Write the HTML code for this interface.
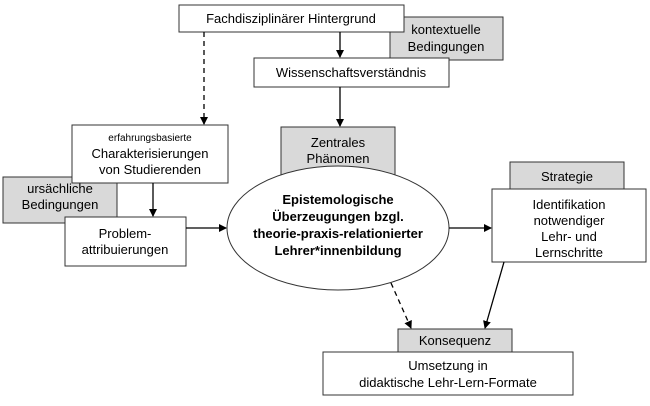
<!DOCTYPE html>
<html><head><meta charset="utf-8"><style>
body{margin:0;background:#fff;}
svg text{font-family:"Liberation Sans",Arial,sans-serif;font-size:13px;fill:#000;text-anchor:middle;}
</style></head><body>
<svg width="650" height="401" viewBox="0 0 650 401" xmlns="http://www.w3.org/2000/svg">
<defs><marker id="a" markerWidth="8" markerHeight="8" refX="7" refY="4" orient="auto" markerUnits="userSpaceOnUse"><path d="M0,0 L8,4 L0,8 z" fill="#000"/></marker></defs>
<g stroke="#333" stroke-width="1">
<rect x="390" y="17" width="113" height="43" fill="#d9d9d9"/>
<rect x="179" y="5" width="225" height="27" fill="#fff"/>
<rect x="254" y="58" width="195" height="29" fill="#fff"/>
<rect x="281" y="127" width="114" height="50" fill="#d9d9d9"/>
<rect x="3" y="177" width="114" height="46" fill="#d9d9d9"/>
<rect x="72" y="125" width="156" height="58" fill="#fff"/>
<rect x="65" y="217" width="121" height="49" fill="#fff"/>
<ellipse cx="338" cy="228" rx="111" ry="62" fill="#fff"/>
<rect x="510" y="162" width="114" height="28" fill="#d9d9d9"/>
<rect x="492" y="189" width="154" height="73" fill="#fff"/>
<rect x="398" y="329" width="114" height="23" fill="#d9d9d9"/>
<rect x="323" y="352" width="250" height="43" fill="#fff"/>
</g>
<g stroke="#000" stroke-width="1.3" fill="none">
<line x1="340" y1="32" x2="340" y2="57" marker-end="url(#a)"/>
<line x1="340" y1="87" x2="340" y2="126" marker-end="url(#a)"/>
<line x1="204" y1="32" x2="204" y2="124" stroke-dasharray="5,4" marker-end="url(#a)"/>
<line x1="153" y1="183" x2="153" y2="216" marker-end="url(#a)"/>
<line x1="186" y1="228" x2="226" y2="228" marker-end="url(#a)"/>
<line x1="449" y1="228" x2="491" y2="228" marker-end="url(#a)"/>
<line x1="504" y1="262" x2="485" y2="328" marker-end="url(#a)"/>
<line x1="391" y1="283" x2="411" y2="328" stroke-dasharray="5,4" marker-end="url(#a)"/>
</g>
<text x="291" y="23">Fachdisziplinärer Hintergrund</text>
<text x="446" y="34">kontextuelle</text><text x="446" y="51">Bedingungen</text>
<text x="351" y="77">Wissenschaftsverständnis</text>
<text x="338" y="147">Zentrales</text><text x="338" y="163">Phänomen</text>
<text x="150" y="141" style="font-size:10px">erfahrungsbasierte</text>
<text x="150" y="158">Charakterisierungen</text><text x="150" y="174">von Studierenden</text>
<text x="60" y="193">ursächliche</text><text x="60" y="209">Bedingungen</text>
<text x="125" y="238">Problem-</text><text x="125" y="254">attribuierungen</text>
<g style="font-weight:bold">
<text x="338" y="204" font-weight="bold">Epistemologische</text>
<text x="338" y="221" font-weight="bold">Überzeugungen bzgl.</text>
<text x="338" y="238" font-weight="bold">theorie-praxis-relationierter</text>
<text x="338" y="255" font-weight="bold">Lehrer*innenbildung</text>
</g>
<text x="567" y="181">Strategie</text>
<text x="569" y="209">Identifikation</text><text x="569" y="225">notwendiger</text>
<text x="569" y="241">Lehr- und</text><text x="569" y="257">Lernschritte</text>
<text x="455" y="345">Konsequenz</text>
<text x="448" y="370">Umsetzung in</text><text x="448" y="387">didaktische Lehr-Lern-Formate</text>
</svg>
</body></html>
